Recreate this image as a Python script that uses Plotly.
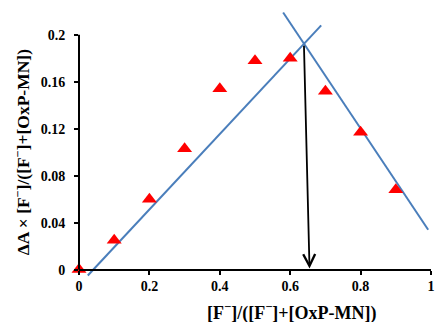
import plotly.graph_objects as go

# data
mole_fraction = [0.0, 0.1, 0.2, 0.3, 0.4, 0.5, 0.6, 0.7, 0.8, 0.9]
job_value = [0.0, 0.025, 0.060, 0.103, 0.154, 0.178, 0.180, 0.152, 0.117, 0.068]

rise_x = [0.025, 0.688]
rise_y = [-0.005, 0.208]
fall_x = [0.580, 0.992]
fall_y = [0.219, 0.034]

arrow_from = (0.639, 0.192)
arrow_to = (0.655, 0.0)

x_ticks = [0, 0.2, 0.4, 0.6, 0.8, 1]
x_labels = ["0", "0.2", "0.4", "0.6", "0.8", "1"]
y_ticks = [0, 0.04, 0.08, 0.12, 0.16, 0.2]
y_labels = ["0", "0.04", "0.08", "0.12", "0.16", "0.2"]

x_range = [0, 1.0]
y_range = [-0.008, 0.222]
y_axis_top = 0.2

FONT = "Liberation Serif"
BLUE = "#4A7EBB"

def ypaper(v):
    return (v - y_range[0]) / (y_range[1] - y_range[0])

fig = go.Figure()
fig.add_trace(go.Scatter(x=rise_x, y=rise_y, mode="lines",
                         line=dict(color=BLUE, width=2), showlegend=False))
fig.add_trace(go.Scatter(x=fall_x, y=fall_y, mode="lines",
                         line=dict(color=BLUE, width=2), showlegend=False))
fig.add_trace(go.Scatter(x=mole_fraction, y=job_value, mode="markers",
                         marker=dict(symbol="triangle-up", size=13, color="#FF0000"),
                         cliponaxis=False, showlegend=False))

fig.add_annotation(x=arrow_to[0], y=arrow_to[1], ax=arrow_from[0], ay=arrow_from[1],
                   xref="x", yref="y", axref="x", ayref="y", text="",
                   showarrow=True, arrowhead=5, arrowsize=1.3, arrowwidth=1.8,
                   arrowcolor="black", standoff=1)

# y axis line from 0 to 0.2
fig.add_shape(type="line", xref="paper", yref="paper", x0=0, x1=0,
              y0=ypaper(0), y1=ypaper(y_axis_top), line=dict(color="black", width=2))

fig.add_annotation(text="[F<sup>−</sup>]/([F<sup>−</sup>]+[OxP-MN])",
                   xref="paper", yref="paper", x=(294 - 79) / 356, y=ypaper(0),
                   xanchor="center", yanchor="middle",
                   yshift=-42, showarrow=False,
                   font=dict(family=FONT, size=18, color="black", weight="bold"))
fig.add_annotation(text="ΔA × [F<sup>−</sup>]/([F<sup>−</sup>]+[OxP-MN])",
                   xref="paper", yref="paper", x=0, y=(ypaper(0) + ypaper(y_axis_top)) / 2,
                   xanchor="center", yanchor="middle",
                   xshift=-57, textangle=-90, showarrow=False,
                   font=dict(family=FONT, size=17.5, color="black", weight="bold"))

fig.update_layout(
    width=438, height=322,
    margin=dict(l=79, r=3, t=9, b=43),
    paper_bgcolor="white", plot_bgcolor="white",
    xaxis=dict(range=x_range, tickvals=x_ticks, ticktext=x_labels,
               showgrid=False, zeroline=False, showline=True, linecolor="black",
               linewidth=2, ticks="outside", ticklen=4, tickwidth=1.5, tickcolor="black",
               anchor="free", position=ypaper(0), ticklabeloverflow="allow",
               tickfont=dict(family=FONT, size=14, color="black", weight="bold")),
    yaxis=dict(range=y_range, tickvals=y_ticks, ticktext=y_labels,
               showgrid=False, zeroline=False, showline=False,
               ticks="outside", ticklen=4, tickwidth=1.5, tickcolor="black",
               ticklabelstandoff=6, ticklabeloverflow="allow",
               tickfont=dict(family=FONT, size=14, color="black", weight="bold")),
)

fig.write_html("out.html")
